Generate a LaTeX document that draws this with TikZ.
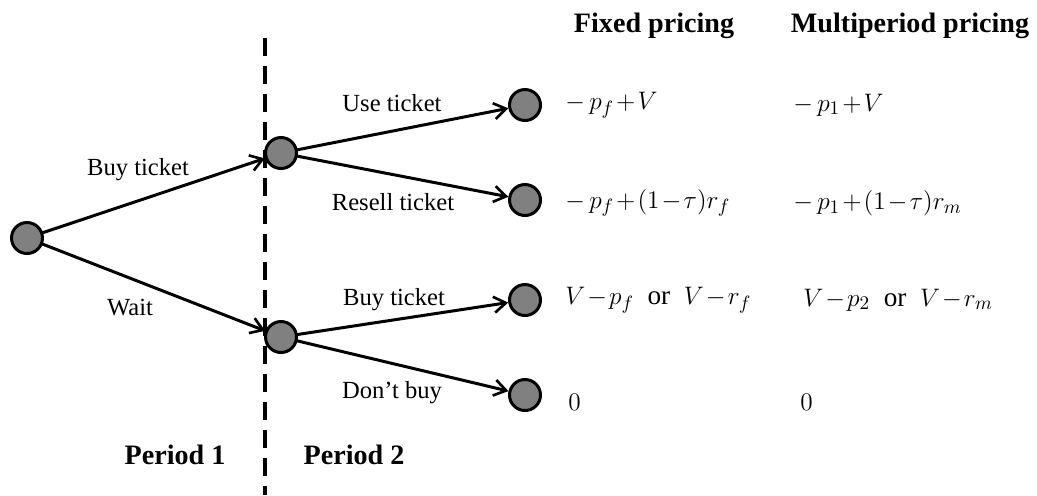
\documentclass[tikz,border=0pt]{standalone}
\usepackage{fontspec}
\setmainfont{Liberation Serif}
\usetikzlibrary{arrows.meta,positioning}
\medmuskip=1.5mu plus 1mu minus 1mu
\tikzset{
  state/.style  = {circle, draw, line width=1.7pt, fill=black!50, minimum size=0.62cm, inner sep=0pt},
  move/.style   = {-{Straight Barb[length=2.4mm,width=3.2mm,line width=1.5pt]}, line width=1.7pt, shorten <=-1pt},
  cut/.style    = {line width=2.4pt, dash pattern=on 0.36cm off 0.2cm},
  lbl/.style    = {font=\fontsize{14}{16}\selectfont, inner sep=0pt},
  head/.style   = {font=\fontsize{16}{19}\selectfont\bfseries, inner sep=0pt},
  pay/.style    = {font=\fontsize{15.5}{19}\selectfont, anchor=west, inner sep=0pt},
}

\begin{document}
\begin{tikzpicture}[x=0.02cm,y=-0.02cm]
  \useasboundingbox (0,0) rectangle (1037,495);
  % period cut
  \coordinate (ctop) at (265,38);
  \coordinate (cbot) at (265,495);
  \draw[cut] (ctop) -- (cbot);
  % tree
  \node[state] (root)   at (27,238) {};
  \node[state] (buy)    at (281,153) {};
  \node[state] (wait)   at (281,337) {};
  \node[state] (use)    at (525,105) {};
  \node[state] (resell) at (525,200) {};
  \node[state] (later)  at (525,300) {};
  \node[state] (dont)   at (525,395) {};
  \draw[move] (root) -- (buy);
  \draw[move] (root) -- (wait);
  \draw[move] (buy) -- (use);
  \draw[move] (buy) -- (resell);
  \draw[move] (wait) -- (later);
  \draw[move] (wait) -- (dont);
  % moves
  \node[lbl] (lbuy)    at (138,170) {Buy ticket};
  \node[lbl] (lwait)   at (130,308) {Wait};
  \node[lbl] (luse)    at (392,103) {Use ticket};
  \node[lbl] (lresell) at (393,202) {Resell ticket};
  \node[lbl] (llater)  at (394,300) {Buy ticket};
  \node[lbl] (ldont)   at (392,393) {Don't buy};
  \node[head] (p1) at (175,455) {Period 1};
  \node[head] (p2) at (354,455) {Period 2};
  % payoffs
  \node[head] (hfix) at (654,26) {Fixed pricing};
  \node[head] (hmul) at (910,26) {Multiperiod pricing};
  \node[pay] (f1) at (565,105) {$-\,p_f+V$};
  \node[pay] (f2) at (565,203) {$-\,p_f+(1-\tau)r_f$};
  \node[pay] (f3) at (565,300) {$V-p_f$\ \ or\ \ $V-r_f$};
  \node[pay] (f4) at (568,402) {$0$};
  \node[pay] (m1) at (793,105) {$-\,p_1+V$};
  \node[pay] (m2) at (793,203) {$-\,p_1+(1-\tau)r_m$};
  \node[pay] (m3) at (803,300) {$V-p_2$\ \ or\ \ $V-r_m$};
  \node[pay] (m4) at (800,402) {$0$};
\end{tikzpicture}
\end{document}
